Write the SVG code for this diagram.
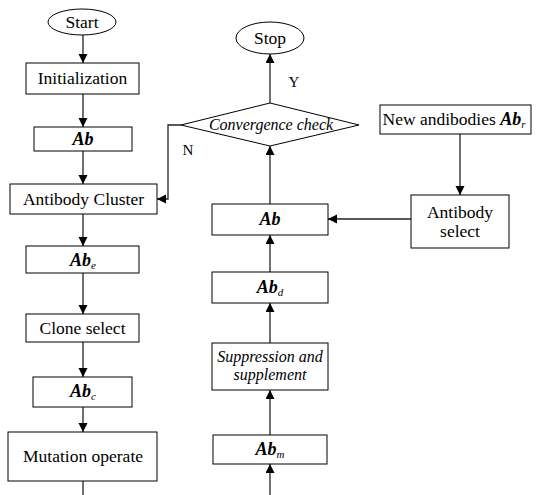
<svg xmlns="http://www.w3.org/2000/svg" width="537" height="495" viewBox="0 0 537 495">
<style>
text{font-family:'Liberation Serif','Times New Roman',Times,Tinos,'Noto Serif','DejaVu Serif',FreeSerif,serif}
.box{fill:#fff;stroke:#000;stroke-width:1}
.t{font-size:17.5px;fill:#000;text-anchor:middle}
.it{font-size:16px;font-style:italic;fill:#000;text-anchor:middle}
.ab{font-size:18px;font-weight:bold;font-style:italic;fill:#000;text-anchor:middle}
.sub{font-size:11px;font-weight:normal;font-style:italic}
.c{fill:none;stroke:#222;stroke-width:1.3}
</style>
<defs>
<marker id="ah" markerUnits="userSpaceOnUse" markerWidth="10" markerHeight="10" refX="9" refY="4.5" orient="auto">
<path d="M0,0 L9,4.5 L0,9 Z" fill="#000"/>
</marker>
</defs>
<rect width="537" height="495" fill="#fff"/>
<g id="connectors">
<line class="c" x1="83" y1="35" x2="83" y2="63" marker-end="url(#ah)"/>
<line class="c" x1="83" y1="94" x2="83" y2="127" marker-end="url(#ah)"/>
<line class="c" x1="83" y1="151" x2="83" y2="184" marker-end="url(#ah)"/>
<line class="c" x1="83" y1="214" x2="83" y2="246" marker-end="url(#ah)"/>
<line class="c" x1="83" y1="273" x2="83" y2="314" marker-end="url(#ah)"/>
<line class="c" x1="83" y1="342" x2="83" y2="377" marker-end="url(#ah)"/>
<line class="c" x1="83" y1="407" x2="83" y2="432" marker-end="url(#ah)"/>
<line class="c" x1="83" y1="481" x2="83" y2="495"/>
<line class="c" x1="270" y1="495" x2="270" y2="464" marker-end="url(#ah)"/>
<line class="c" x1="270" y1="435" x2="270" y2="390" marker-end="url(#ah)"/>
<line class="c" x1="270" y1="343" x2="270" y2="303" marker-end="url(#ah)"/>
<line class="c" x1="270" y1="272" x2="270" y2="235" marker-end="url(#ah)"/>
<line class="c" x1="270" y1="204" x2="270" y2="146" marker-end="url(#ah)"/>
<line class="c" x1="270" y1="103" x2="270" y2="54" marker-end="url(#ah)"/>
<polyline class="c" points="181,125 168,125 168,199 157,199" marker-end="url(#ah)"/>
<line class="c" x1="411" y1="219" x2="328" y2="219" marker-end="url(#ah)"/>
<line class="c" x1="460" y1="134" x2="460" y2="195" marker-end="url(#ah)"/>
<text class="t" x="294" y="87" style="font-size:15px">Y</text>
<text class="t" x="188" y="155" style="font-size:15px">N</text>
</g>
<g id="start"><ellipse class="box" cx="82" cy="22" rx="34" ry="13"/><text class="t" x="82" y="28">Start</text></g>
<g id="init"><rect class="box" x="26" y="63" width="113" height="31"/><text class="t" x="82.5" y="84">Initialization</text></g>
<g id="ab1"><rect class="box" x="34" y="127" width="98" height="24"/><text class="ab" x="83" y="145">Ab</text></g>
<g id="cluster"><rect class="box" x="10" y="184" width="147" height="30"/><text class="t" x="83.5" y="205">Antibody Cluster</text></g>
<g id="abe"><rect class="box" x="26" y="246" width="113" height="27"/><text class="ab" x="83" y="266">Ab<tspan class="sub" dy="3">e</tspan></text></g>
<g id="clone"><rect class="box" x="26" y="314" width="113" height="28"/><text class="t" x="82.5" y="334">Clone select</text></g>
<g id="abc"><rect class="box" x="33" y="377" width="99" height="30"/><text class="ab" x="83" y="397">Ab<tspan class="sub" dy="3">c</tspan></text></g>
<g id="mutation"><rect class="box" x="8" y="432" width="149" height="49"/><text class="t" x="83" y="462">Mutation operate</text></g>
<g id="stop"><ellipse class="box" cx="270" cy="38" rx="34" ry="16"/><text class="t" x="270" y="44">Stop</text></g>
<g id="convergence"><polygon class="box" points="270,103 359,125 270,146 181,125"/><text class="it" x="271" y="130">Convergence check</text></g>
<g id="ab2"><rect class="box" x="212" y="204" width="116" height="31"/><text class="ab" x="270" y="225">Ab</text></g>
<g id="abd"><rect class="box" x="212" y="272" width="116" height="31"/><text class="ab" x="270" y="293">Ab<tspan class="sub" dy="3">d</tspan></text></g>
<g id="suppression"><rect class="box" x="212" y="343" width="116" height="47"/><text class="it" x="270" y="362">Suppression and</text><text class="it" x="270" y="380">supplement</text></g>
<g id="abm"><rect class="box" x="213" y="435" width="114" height="29"/><text class="ab" x="270" y="455">Ab<tspan class="sub" dy="3">m</tspan></text></g>
<g id="newab"><rect class="box" x="380" y="105" width="151" height="29"/><text class="t" x="454" y="125">New andibodies <tspan style="font-weight:bold;font-style:italic;font-size:18px">Ab</tspan><tspan class="sub" dy="3">r</tspan></text></g>
<g id="abselect"><rect class="box" x="411" y="195" width="98" height="53"/><text class="t" x="460" y="218">Antibody</text><text class="t" x="460" y="237">select</text></g>
</svg>
